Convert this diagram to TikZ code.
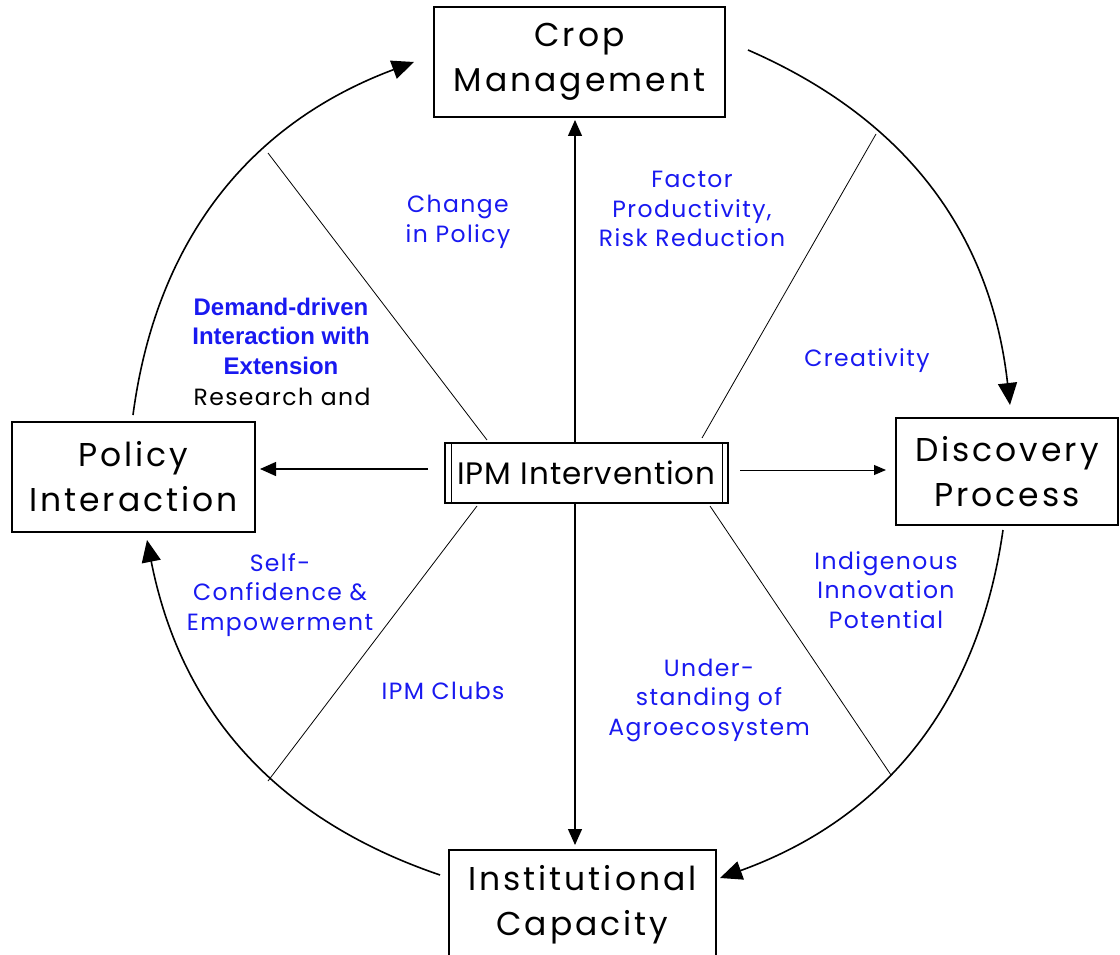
\documentclass[tikz,border=0pt]{standalone}
\usepackage{fontspec}
\setmainfont{Poppins}
\newfontfamily\boxfont[LetterSpace=9]{Poppins}
\newfontfamily\ipmfont[LetterSpace=3]{Poppins}
\newfontfamily\lblfont[LetterSpace=6]{Poppins}
\newfontfamily\arialfont{Liberation Sans}
\usetikzlibrary{arrows.meta}
\definecolor{lblue}{RGB}{25,25,240}
\begin{document}
\begin{tikzpicture}[x=1pt,y=1pt,
 box/.style={draw, line width=1.6pt, align=center, inner sep=0pt, font=\boxfont\fontsize{33}{45}\selectfont},
 lbl/.style={text=lblue, align=center, inner sep=0pt, font=\lblfont\fontsize{23.5}{29.5}\selectfont},
 ray/.style={line width=0.8pt},
 cyc/.style={line width=1.6pt, -{Triangle[length=22pt,width=19pt]}},
 spoke/.style={line width=1.3pt, -{Triangle[length=16pt,width=14pt]}}
]
\useasboundingbox (0,-955) rectangle (1120,0);
% boxes
\node[box, minimum width=291, minimum height=110] (crop) at (579.5,-62) {Crop\\Management};
\node[box, minimum width=222, minimum height=107] (disc) at (1007,-471.5) {Discovery\\Process};
\node[box, minimum width=267, minimum height=110] (inst) at (582.5,-905) {Institutional\\Capacity};
\node[box, minimum width=243, minimum height=110] (pol) at (133.5,-477) {Policy\\Interaction};
\node[box, minimum width=283, minimum height=60, font=\ipmfont\fontsize{31}{40}\selectfont] (ipm) at (586.5,-473) {IPM Intervention};
\draw[line width=0.8pt] ([xshift=7pt]ipm.north west) -- ([xshift=7pt]ipm.south west);
\draw[line width=0.8pt] ([xshift=-6pt]ipm.north east) -- ([xshift=-6pt]ipm.south east);
% spokes
\coordinate (upS) at (575,-443);
\coordinate (upE) at (575,-120);
\coordinate (dnS) at (575,-503);
\coordinate (dnE) at (575,-845);
\coordinate (lfS) at (428,-469);
\coordinate (lfE) at (260,-469);
\coordinate (rtS) at (740,-470);
\coordinate (rtE) at (886,-470);
\draw[spoke] (upS) -- (upE);
\draw[spoke] (dnS) -- (dnE);
\draw[spoke] (lfS) -- (lfE);
\draw[line width=1pt, -{Triangle[length=12pt,width=10pt]}] (rtS) -- (rtE);
% radial lines
\coordinate (r1a) at (487,-440); \coordinate (r1b) at (268,-153);
\coordinate (r2a) at (702,-438); \coordinate (r2b) at (876,-134);
\coordinate (r3a) at (477,-506); \coordinate (r3b) at (268,-781);
\coordinate (r4a) at (710,-506); \coordinate (r4b) at (891,-775);
\draw[ray] (r1a) -- (r1b);
\draw[ray] (r2a) -- (r2b);
\draw[ray] (r3a) -- (r3b);
\draw[ray] (r4a) -- (r4b);
% cycle arcs
\coordinate (c1s) at (133,-415); \coordinate (c1e) at (414,-62);
\coordinate (c2s) at (748,-50); \coordinate (c2e) at (1010,-405);
\coordinate (c3s) at (1003,-530); \coordinate (c3e) at (720,-878);
\coordinate (c4s) at (440,-875); \coordinate (c4e) at (147,-540);
\draw[cyc] (c1s) to[bend left=31] (c1e);
\draw[cyc] (c2s) to[bend left=30] (c2e);
\draw[cyc] (c3s) to[bend left=31] (c3e);
\draw[cyc] (c4s) to[bend left=30] (c4e);
% labels
\node[lbl] (l1) at (458,-222) {Change\\in Policy};
\node[lbl] (l2) at (692,-209) {Factor\\Productivity,\\Risk Reduction};
\node[lbl] (l3) at (867,-361) {Creativity};
\node[lbl, font=\arialfont\bfseries\fontsize{24}{29.5}\selectfont] (l4) at (281,-336) {Demand-driven\\Interaction with\\Extension};
\node[lbl, text=black] (l5) at (282,-397) {Research and};
\node[lbl] (l6) at (280,-595) {Self-\\Confidence \&\\Empowerment};
\node[lbl] (l7) at (443,-691) {IPM Clubs};
\node[lbl] (l8) at (709,-700) {Under-\\standing of\\Agroecosystem};
\node[lbl] (l9) at (886,-590) {Indigenous\\Innovation\\Potential};
\end{tikzpicture}
\end{document}
